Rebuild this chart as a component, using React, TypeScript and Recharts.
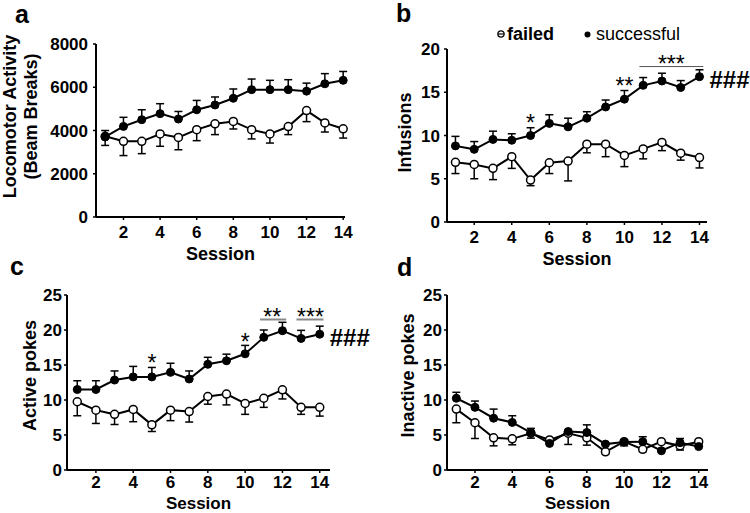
import { LineChart, Line, XAxis, YAxis, ErrorBar, ReferenceDot, ReferenceLine, Legend } from 'recharts'

const FONT = '"Liberation Sans", Arial, Helvetica, sans-serif'

const sessions = [1, 2, 3, 4, 5, 6, 7, 8, 9, 10, 11, 12, 13, 14]
const sessionTicks = [2, 4, 6, 8, 10, 12, 14]

// a: locomotor activity (beam breaks)
const locoSucc = [3700, 4190, 4500, 4780, 4530, 4960, 5180, 5490, 5890, 5890, 5890, 5820, 6160, 6320]
const locoSuccErr = [300, 420, 460, 460, 350, 430, 370, 430, 490, 430, 460, 370, 470, 410]
const locoFail = [3730, 3500, 3500, 3840, 3680, 4040, 4310, 4420, 4040, 3840, 4180, 4920, 4350, 4080]
const locoFailErr = [420, 660, 570, 570, 570, 510, 500, 350, 430, 420, 370, 510, 420, 430]

// b: infusions
const infSucc = [8.8, 8.4, 9.55, 9.45, 10.0, 11.4, 11.0, 12.0, 13.3, 14.2, 15.8, 16.3, 15.55, 16.8]
const infSuccErr = [1.1, 0.9, 0.95, 0.75, 0.9, 1.0, 1.0, 0.75, 0.8, 1.0, 0.9, 0.9, 0.8, 0.8]
const infFail = [6.9, 6.65, 6.2, 7.55, 4.85, 6.85, 7.05, 9.0, 9.0, 7.7, 8.45, 9.2, 7.95, 7.45]
const infFailErr = [1.3, 1.65, 1.3, 1.35, 0.65, 1.25, 2.3, 1.0, 1.45, 1.3, 1.15, 0.95, 0.8, 1.2]

// c: active pokes
const actSucc = [11.5, 11.5, 12.85, 13.3, 13.3, 13.95, 13.0, 15.1, 15.6, 16.6, 18.95, 19.9, 18.8, 19.4]
const actSuccErr = [1.25, 1.25, 1.3, 1.5, 1.35, 1.3, 1.15, 1.0, 0.95, 1.2, 1.05, 1.2, 1.15, 1.15]
const actFail = [9.75, 8.55, 7.95, 8.65, 6.45, 8.55, 8.35, 10.5, 10.85, 9.5, 10.25, 11.45, 8.95, 8.95]
const actFailErr = [2.0, 1.9, 1.45, 1.75, 0.95, 1.5, 1.5, 1.1, 1.55, 1.55, 1.3, 1.3, 1.0, 1.25]

// d: inactive pokes
const inaSucc = [10.25, 8.95, 7.4, 6.8, 5.35, 3.8, 5.5, 5.35, 3.7, 4.0, 4.05, 2.75, 3.9, 3.35]
const inaSuccErr = [0.85, 0.9, 1.3, 0.95, 0.6, 0.3, 0.2, 1.1, 0.2, 0.3, 0.7, 0.2, 0.6, 0.2]
const inaFail = [8.7, 6.75, 4.6, 4.45, 5.25, 4.3, 5.25, 4.6, 2.6, 4.05, 2.95, 4.05, 3.45, 4.05]
const inaFailErr = [1.95, 2.25, 1.15, 0.85, 0.7, 0.25, 1.6, 1.05, 0.3, 0.6, 0.35, 0.1, 0.6, 0.1]

// significance marks
const infStars = [
  { x: 5, y: 12.0, text: '*' },
  { x: 10, y: 16.3, text: '**' },
  { x: 12.5, y: 18.8, text: '***' },
]
const infBars = [{ from: 10.8, to: 14.2, y: 17.97 }]
const infHash = { x: 14, y: 16.4 }

const actStars = [
  { x: 5, y: 16, text: '*' },
  { x: 10, y: 19, text: '*' },
  { x: 11.45, y: 22.6, text: '**' },
  { x: 13.5, y: 22.6, text: '***' },
]
const actBars = [
  { from: 10.8, to: 12.2, y: 21.5 },
  { from: 12.75, to: 14.2, y: 21.5 },
]
const actHash = { x: 14, y: 18.9 }

function buildRows(succ: number[], succErr: number[], fail: number[], failErr: number[]) {
  return sessions.map((session, i) => ({
    session,
    succ: succ[i],
    succErr: [0, succErr[i]],
    fail: fail[i],
    failErr: [failErr[i], 0],
  }))
}

function YTitle(props: any) {
  const { viewBox, lines, dx, dy } = props
  const cx = viewBox.x + dx
  const cy = viewBox.y + viewBox.height / 2 + dy
  return (
    <text
      transform={`rotate(-90 ${cx} ${cy})`}
      x={cx}
      y={cy}
      textAnchor="middle"
      dominantBaseline="central"
      fill="#000"
      style={{ fontSize: 18, fontWeight: 700, fontFamily: FONT }}
    >
      {lines.map((l: string, i: number) => (
        <tspan key={i} x={cx} dy={i === 0 ? 0 : 21}>{l}</tspan>
      ))}
    </text>
  )
}

function SessionTitle(props: any) {
  const { viewBox, gap, size } = props
  return (
    <text
      x={viewBox.x + viewBox.width / 2}
      y={viewBox.y + gap}
      textAnchor="middle"
      dominantBaseline="central"
      fill="#000"
      style={{ fontSize: size, fontWeight: 700, fontFamily: FONT }}
    >
      Session
    </text>
  )
}

function Mark(props: any) {
  const { viewBox, text, hash } = props
  const x = viewBox.x + (viewBox.width || 0) / 2
  const y = viewBox.y + (viewBox.height || 0) / 2
  if (hash) {
    return (
      <text x={x + 10} y={y + 8} textAnchor="start" fill="#000" style={{ fontSize: 24, fontWeight: 700, fontFamily: FONT }}>
        ###
      </text>
    )
  }
  return (
    <text x={x} y={y + 13} textAnchor="middle" fill="#000" style={{ fontSize: 23, fontFamily: FONT }}>
      {text}
    </text>
  )
}

function LegendBox() {
  return (
    <div style={{ display: 'flex', alignItems: 'center', fontFamily: FONT, fontSize: 18, color: '#000', lineHeight: '20px', whiteSpace: 'nowrap' }}>
      <svg width={8} height={8} style={{ display: 'block' }}>
        <circle cx={4} cy={4} r={3.2} fill="#fff" stroke="#000" strokeWidth={1.2} />
        <line x1={1} x2={7} y1={4} y2={4} stroke="#000" strokeWidth={1.2} />
      </svg>
      <span style={{ fontWeight: 700, marginLeft: 2 }}>failed</span>
      <svg width={7} height={7} style={{ display: 'block', marginLeft: 30 }}>
        <circle cx={3.5} cy={3.5} r={3} fill="#000" />
      </svg>
      <span style={{ marginLeft: 5 }}>successful</span>
    </div>
  )
}

const tickStyle = { fontSize: 17, fontWeight: 700, fill: '#000', fontFamily: FONT }
const axisLine = { stroke: '#000', strokeWidth: 2 }
const tickLine = { stroke: '#000', strokeWidth: 1.5 }

type PanelProps = {
  rows: any[]
  left: number
  top: number
  height: number
  margin: { top: number; right: number; left: number; bottom: number }
  yWidth: number
  xHeight: number
  titleGap: number
  titleSize: number
  xTickMargin: number
  xDomain: [number, number]
  yDomain: [number, number]
  yTicks: number[]
  yTitle: string[]
  yTitleDx: number
  yTitleDy: number
  yTickMargin: number
  stars?: { x: number; y: number; text: string }[]
  bars?: { from: number; to: number; y: number }[]
  barColor?: string
  barWidth?: number
  hash?: { x: number; y: number }
  legend?: boolean
}

function Panel(p: PanelProps) {
  return (
    <div style={{ position: 'absolute', left: p.left, top: p.top }}>
      <LineChart width={375} height={p.height} data={p.rows} margin={p.margin}>
        <XAxis
          type="number"
          dataKey="session"
          domain={p.xDomain}
          ticks={sessionTicks}
          tick={tickStyle}
          axisLine={axisLine}
          tickLine={tickLine}
          tickSize={3}
          tickMargin={p.xTickMargin}
          height={p.xHeight}
          label={<SessionTitle gap={p.titleGap} size={p.titleSize} />}
        />
        <YAxis
          type="number"
          domain={p.yDomain}
          ticks={p.yTicks}
          tick={tickStyle}
          axisLine={axisLine}
          tickLine={tickLine}
          tickSize={3}
          tickMargin={p.yTickMargin}
          width={p.yWidth}
          interval={0}
          label={<YTitle lines={p.yTitle} dx={p.yTitleDx} dy={p.yTitleDy} />}
        />
        {/* error bars first, so the markers sit on top of them */}
        <Line dataKey="fail" stroke="none" dot={false} activeDot={false} isAnimationActive={false} legendType="none">
          <ErrorBar dataKey="failErr" direction="y" width={4} stroke="#000" strokeWidth={1.5} isAnimationActive={false} />
        </Line>
        <Line dataKey="succ" stroke="none" dot={false} activeDot={false} isAnimationActive={false} legendType="none">
          <ErrorBar dataKey="succErr" direction="y" width={4} stroke="#000" strokeWidth={1.5} isAnimationActive={false} />
        </Line>
        <Line
          type="linear"
          dataKey="fail"
          stroke="#000"
          strokeWidth={2}
          dot={{ r: 4, fill: '#fff', stroke: '#000', strokeWidth: 1.5 }}
          activeDot={false}
          isAnimationActive={false}
        />
        <Line
          type="linear"
          dataKey="succ"
          stroke="#000"
          strokeWidth={2}
          dot={{ r: 4, fill: '#000', stroke: '#000', strokeWidth: 1 }}
          activeDot={false}
          isAnimationActive={false}
        />
        {(p.bars || []).map((b, i) => (
          <ReferenceLine
            key={'bar' + i}
            segment={[{ x: b.from, y: b.y }, { x: b.to, y: b.y }]}
            stroke={p.barColor}
            strokeWidth={p.barWidth}
          />
        ))}
        {(p.stars || []).map((s, i) => (
          <ReferenceDot key={'star' + i} x={s.x} y={s.y} r={0} fill="none" stroke="none" label={<Mark text={s.text} />} />
        ))}
        {p.hash && (
          <ReferenceDot x={p.hash.x} y={p.hash.y} r={0} fill="none" stroke="none" label={<Mark hash />} />
        )}
        {p.legend && (
          <Legend
            layout="horizontal"
            verticalAlign="middle"
            align="center"
            content={<LegendBox />}
            wrapperStyle={{ top: 24, left: 122, width: 'auto' }}
          />
        )}
      </LineChart>
    </div>
  )
}

const letterStyle = { fontSize: 25, fontWeight: 700, fontFamily: FONT }

export default function App() {
  return (
    <div style={{ position: 'absolute', left: 0, top: 0, width: 750, height: 513, background: '#fff', overflow: 'hidden' }}>
      <Panel
        rows={buildRows(locoSucc, locoSuccErr, locoFail, locoFailErr)}
        left={0}
        top={0}
        height={275}
        margin={{ top: 44, right: 30, left: 0, bottom: 0 }}
        yWidth={96}
        xHeight={58}
        titleGap={37}
        titleSize={18}
        xTickMargin={6}
        xDomain={[0.5, 14.1]}
        yDomain={[0, 8000]}
        yTicks={[0, 2000, 4000, 6000, 8000]}
        yTitle={['Locomotor Activity', '(Beam Breaks)']}
        yTitleDx={9.5}
        yTitleDy={-14}
        yTickMargin={5}
      />
      <Panel
        rows={buildRows(infSucc, infSuccErr, infFail, infFailErr)}
        left={375}
        top={0}
        height={275}
        margin={{ top: 49, right: 43, left: 0, bottom: 0 }}
        yWidth={72}
        xHeight={53}
        titleGap={37}
        titleSize={18}
        xTickMargin={6}
        xDomain={[0.55, 14.4]}
        yDomain={[0, 20]}
        yTicks={[0, 5, 10, 15, 20]}
        yTitle={['Infusions']}
        yTitleDx={30}
        yTitleDy={-3}
        yTickMargin={4}
        stars={infStars}
        bars={infBars}
        barColor="#555"
        barWidth={1}
        hash={infHash}
        legend
      />
      <Panel
        rows={buildRows(actSucc, actSuccErr, actFail, actFailErr)}
        left={0}
        top={260}
        height={253}
        margin={{ top: 35, right: 45, left: 0, bottom: 0 }}
        yWidth={67}
        xHeight={43}
        titleGap={33.5}
        titleSize={17}
        xTickMargin={3}
        xDomain={[0.45, 14.55]}
        yDomain={[0, 25]}
        yTicks={[0, 5, 10, 15, 20, 25]}
        yTitle={['Active pokes']}
        yTitleDx={30}
        yTitleDy={-7}
        yTickMargin={2}
        stars={actStars}
        bars={actBars}
        barColor="#888"
        barWidth={2}
        hash={actHash}
      />
      <Panel
        rows={buildRows(inaSucc, inaSuccErr, inaFail, inaFailErr)}
        left={375}
        top={260}
        height={253}
        margin={{ top: 35, right: 42, left: 0, bottom: 0 }}
        yWidth={72}
        xHeight={43}
        titleGap={33.5}
        titleSize={17}
        xTickMargin={3}
        xDomain={[0.5, 14.5]}
        yDomain={[0, 25]}
        yTicks={[0, 5, 10, 15, 20, 25]}
        yTitle={['Inactive pokes']}
        yTitleDx={33}
        yTitleDy={-7}
        yTickMargin={2}
      />
      <svg width={750} height={513} style={{ position: 'absolute', left: 0, top: 0, pointerEvents: 'none' }}>
        <text x={15} y={23} fill="#000" style={letterStyle}>a</text>
        <text x={396} y={22} fill="#000" style={letterStyle}>b</text>
        <text x={10} y={275} fill="#000" style={letterStyle}>c</text>
        <text x={397} y={276} fill="#000" style={letterStyle}>d</text>
      </svg>
    </div>
  )
}
